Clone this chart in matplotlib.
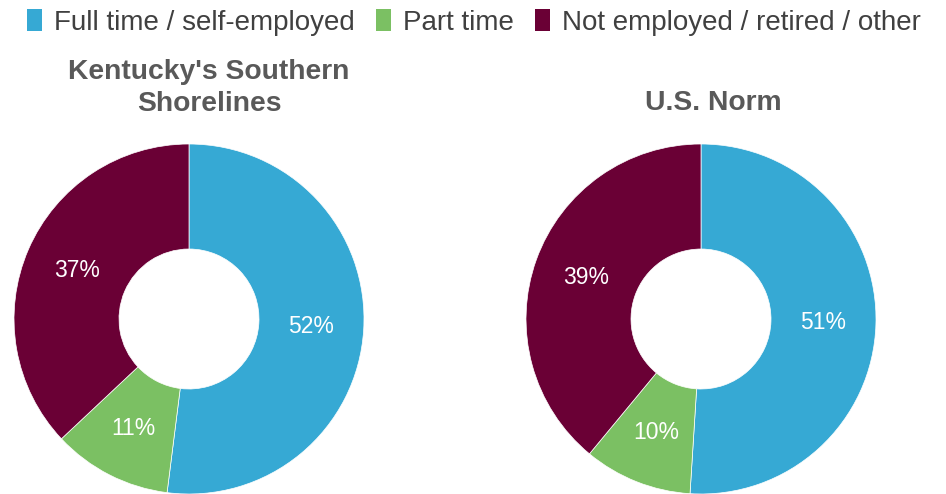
"""Employment status donuts: Kentucky's Southern Shorelines vs U.S. norm."""

import matplotlib

matplotlib.use("Agg")
import matplotlib.pyplot as plt
from matplotlib.patches import Patch

plt.rcParams["font.family"] = ["Liberation Sans", "DejaVu Sans"]

categories = ["Full time / self-employed", "Part time", "Not employed / retired / other"]
colors = ["#36a9d4", "#7bc063", "#6a0035"]

titles = ["Kentucky's Southern\nShorelines", "U.S. Norm"]
kentucky = [52, 11, 37]
us_norm = [51, 10, 39]

W, H = 946, 494
fig = plt.figure(figsize=(W / 100, H / 100), dpi=100)

# donut centres and title centres in pixels, radius 175px
centers = [(189, 319), (701, 319)]
title_pos = [(209, 88), (713, 103)]
R = 175

for (cx, cy), (tx, ty), title, values in zip(
    centers, title_pos, titles, [kentucky, us_norm]
):
    ax = fig.add_axes([(cx - R) / W, 1 - (cy + R) / H, 2 * R / W, 2 * R / H])
    ax.pie(
        values,
        colors=colors,
        startangle=90,
        counterclock=False,
        autopct="%.0f%%",
        pctdistance=0.7,
        wedgeprops=dict(width=0.6, edgecolor="white", linewidth=0.5),
        textprops=dict(color="white", fontsize=16.5),
    )
    ax.set_xlim(-1, 1)
    ax.set_ylim(-1, 1)
    ax.set_aspect("equal")
    ax.axis("off")
    fig.text(
        tx / W, 1 - ty / H, title,
        ha="center", va="center", fontsize=20.3, fontweight="bold",
        color="#595959", linespacing=1.32,
    )

handles = [Patch(facecolor=c, edgecolor="none") for c in colors]
fig.legend(
    handles, categories,
    loc="upper left", bbox_to_anchor=(27 / W, 1 - 9 / H),
    ncol=3, frameon=False, fontsize=20, labelcolor="#404040",
    handlelength=0.54, handleheight=0.83, handletextpad=0.44,
    columnspacing=0.75, borderpad=0, borderaxespad=0,
)

fig.savefig("out.png", dpi=100)
